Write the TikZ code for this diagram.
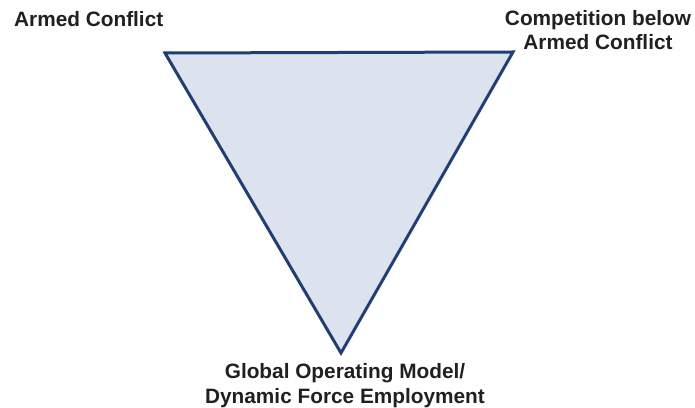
\documentclass[tikz,border=0pt]{standalone}
\usepackage{fontspec}
\setmainfont{Liberation Sans}
\definecolor{triFill}{HTML}{DCE3EF}
\definecolor{triLine}{HTML}{1F3F73}
\definecolor{labelText}{HTML}{231F20}
\begin{document}
\begin{tikzpicture}[x=1pt,y=1pt,
  lbl/.style={inner sep=0pt, align=center, text=labelText,
    font=\bfseries\fontsize{20.8}{24.8}\selectfont},
  tri/.style={fill=triFill, draw=triLine, line width=3pt, line join=miter}]
\useasboundingbox (0,0) rectangle (695,407);
\coordinate (tl) at (165,354);
\coordinate (tr) at (513,355);
\coordinate (bt) at (341,54);
\draw[tri] (tl) -- (tr) -- (bt) -- cycle;
\node[lbl, anchor=base west] (armed) at (14,380) {Armed Conflict};
\node[lbl, anchor=base] (comp) at (598,357) {Competition below\\Armed Conflict};
\node[lbl, anchor=base] (gom) at (345,4) {Global Operating Model/\\Dynamic Force Employment};
\end{tikzpicture}
\end{document}
